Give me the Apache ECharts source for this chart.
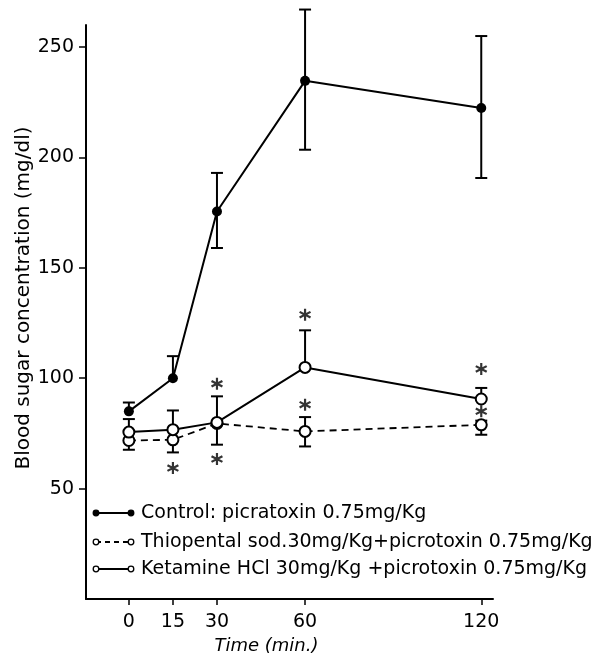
<!DOCTYPE html>
<html>
<head>
<meta charset="utf-8">
<script src="https://cdn.jsdelivr.net/npm/echarts@6/dist/echarts.min.js"></script>
<style>html,body{margin:0;padding:0;background:#fff;}#c{width:616px;height:660px;}</style>
</head>
<body>
<div id="c"></div>
<script>
// ---- data ----
var times = [0, 15, 30, 60, 120];
var xTickLabels = [0, 15, 30, 60, 120];
var yTickLabels = [50, 100, 150, 200, 250];

var controlName = 'Control: picratoxin 0.75mg/Kg';
var control = [85, 100, 175.5, 234.7, 222.4];
var controlHigh = [89, 110, 193, 267, 255];
var controlLow = [85, 100, 159, 203.5, 190.7];

var thioName = 'Thiopental sod.30mg/Kg+picrotoxin 0.75mg/Kg';
var thio = [71.8, 72.1, 79.5, 75.9, 78.9];
var thioHigh = [71.8, 72.1, 79.5, 82.4, 80.8];
var thioLow = [67.6, 66.4, 79.5, 69.1, 74.4];

var ketName = 'Ketamine HCl 30mg/Kg +picrotoxin 0.75mg/Kg';
var ket = [75.6, 76.7, 80, 104.9, 90.6];
var ketHigh = [81.5, 85.4, 91.8, 121.7, 95.6];
var ketLow = [75.6, 76.7, 69.9, 104.9, 90.6];

var starsX = [15, 30, 30, 60, 60, 120, 120];
var starsY = [59.3, 97.5, 63.4, 128.8, 88, 104.2, 85];

// ---- build ----
var FONT = 'DejaVu Sans';
function pairs(xs, ys) { return xs.map(function (x, i) { return [x, ys[i]]; }); }
function errData(vals, lo, hi) { return times.map(function (t, i) { return [t, lo[i], hi[i], vals[i]]; }); }

function errRender(params, api) {
  var x = api.value(0), lo = api.value(1), hi = api.value(2), v = api.value(3);
  var pHi = api.coord([x, hi]), pLo = api.coord([x, lo]);
  var cw = 6;
  var st = { stroke: '#000', lineWidth: 2 };
  var children = [{ type: 'line', shape: { x1: pHi[0], y1: pHi[1], x2: pLo[0], y2: pLo[1] }, style: st }];
  if (hi !== v) children.push({ type: 'line', shape: { x1: pHi[0] - cw, y1: pHi[1], x2: pHi[0] + cw, y2: pHi[1] }, style: st });
  if (lo !== v) children.push({ type: 'line', shape: { x1: pLo[0] - cw, y1: pLo[1], x2: pLo[0] + cw, y2: pLo[1] }, style: st });
  return { type: 'group', children: children };
}

var asterisk = 'path://M8.4 1 L11.6 1 L11.6 19 L8.4 19 Z M1.2 7.2 L2.8 4.4 L18.8 12.8 L17.2 15.6 Z M2.8 15.6 L1.2 12.8 L17.2 4.4 L18.8 7.2 Z';

var chart = echarts.init(document.getElementById('c'), null, { renderer: 'canvas' });

// legend drawn as graphic (icon: line with circles at both ends)
var legendRows = [
  { name: controlName, y: 513, dash: false, filled: true },
  { name: thioName, y: 542, dash: true, filled: false },
  { name: ketName, y: 569, dash: false, filled: false }
];
var graphics = [];
legendRows.forEach(function (r) {
  graphics.push({ type: 'line', shape: { x1: 96, y1: r.y, x2: 131, y2: r.y },
    style: { stroke: '#000', lineWidth: 1.8, lineDash: r.dash ? [5, 4] : null }, z: 10 });
  [96, 131].forEach(function (cx) {
    graphics.push({ type: 'circle', shape: { cx: cx, cy: r.y, r: 2.8 },
      style: { fill: r.filled ? '#000' : '#fff', stroke: '#000', lineWidth: 1.3 }, z: 11 });
  });
  graphics.push({ type: 'text', x: 141, y: r.y, z: 11,
    style: { text: r.name, fill: '#000', font: '19px "' + FONT + '"', textVerticalAlign: 'middle', textAlign: 'left' } });
});

var option = {
  animation: false,
  backgroundColor: '#fff',
  grid: { left: 86, top: 25, right: 123, bottom: 61, containLabel: false },
  xAxis: {
    type: 'value', min: -14.6, max: 124,
    name: 'Time (min.)', nameLocation: 'middle', nameGap: 35,
    nameTextStyle: { fontFamily: FONT, fontSize: 18, fontStyle: 'italic', color: '#000', padding: [0, 46, 0, 0] },
    axisLine: { show: true, onZero: false, lineStyle: { color: '#000', width: 2 } },
    axisTick: { show: true, customValues: xTickLabels, length: 6, lineStyle: { color: '#000', width: 1.5 } },
    axisLabel: { customValues: xTickLabels, margin: 14, fontFamily: FONT, fontSize: 19, color: '#000' },
    splitLine: { show: false }
  },
  yAxis: {
    type: 'value', min: 0, max: 260,
    name: 'Blood sugar concentration (mg/dl)', nameLocation: 'middle', nameGap: 52, nameMoveOverlap: false,
    nameTextStyle: { fontFamily: FONT, fontSize: 20, color: '#000', padding: [0, 0, 0, 28] },
    axisLine: { show: true, onZero: false, lineStyle: { color: '#000', width: 2 } },
    axisTick: { show: true, customValues: yTickLabels, length: 7, lineStyle: { color: '#000', width: 1.5 } },
    axisLabel: { customValues: yTickLabels, margin: 12, fontFamily: FONT, fontSize: 19, color: '#000' },
    splitLine: { show: false }
  },
  graphic: graphics,
  series: [
    { type: 'custom', name: 'errC', renderItem: errRender, data: errData(control, controlLow, controlHigh), z: 1, clip: false, encode: { x: 0, y: [1, 2] } },
    { type: 'custom', name: 'errT', renderItem: errRender, data: errData(thio, thioLow, thioHigh), z: 1, clip: false, encode: { x: 0, y: [1, 2] } },
    { type: 'custom', name: 'errK', renderItem: errRender, data: errData(ket, ketLow, ketHigh), z: 1, clip: false, encode: { x: 0, y: [1, 2] } },
    { type: 'line', name: thioName, data: pairs(times, thio), z: 2,
      symbol: 'emptyCircle', symbolSize: 11,
      lineStyle: { color: '#000', width: 1.8, type: [7, 5] },
      itemStyle: { color: '#000', borderColor: '#000', borderWidth: 1.8 } },
    { type: 'line', name: ketName, data: pairs(times, ket), z: 3,
      symbol: 'emptyCircle', symbolSize: 11,
      lineStyle: { color: '#000', width: 2 },
      itemStyle: { color: '#000', borderColor: '#000', borderWidth: 1.8 } },
    { type: 'line', name: controlName, data: pairs(times, control), z: 3,
      symbol: 'circle', symbolSize: 10,
      lineStyle: { color: '#000', width: 2 },
      itemStyle: { color: '#000' } },
    { type: 'scatter', name: 'significance', data: pairs(starsX, starsY), z: 4,
      symbol: asterisk, symbolSize: 12, itemStyle: { color: '#000' } }
  ]
};
chart.setOption(option);
</script>
</body>
</html>
